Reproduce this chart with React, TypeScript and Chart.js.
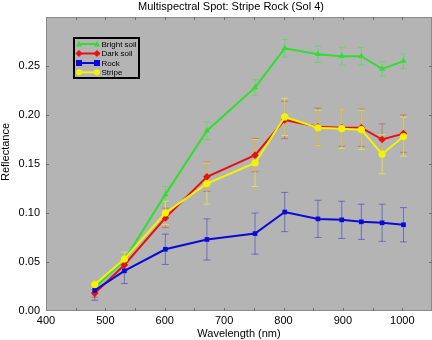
import React, { useEffect, useRef } from "react";
import { Chart, registerables } from "chart.js";

Chart.register(...registerables);

const TITLE = "Multispectral Spot: Stripe Rock (Sol 4)";
const X_TITLE = "Wavelength (nm)";
const Y_TITLE = "Reflectance";

const wavelengths = [482, 532, 601, 671, 752, 802, 858, 898, 931, 966, 1002];

const brightSoil = [0.024, 0.052, 0.119, 0.184, 0.228, 0.268, 0.262, 0.26, 0.26, 0.247, 0.255];
const brightSoilErr = [0.005, 0.006, 0.008, 0.009, 0.008, 0.009, 0.0085, 0.009, 0.009, 0.0075, 0.0075];

const darkSoil = [0.018, 0.047, 0.095, 0.137, 0.159, 0.195, 0.188, 0.187, 0.187, 0.175, 0.181];
const darkSoilErr = [0.004, 0.006, 0.01, 0.015, 0.017, 0.019, 0.019, 0.019, 0.019, 0.016, 0.019];

const rock = [0.021, 0.041, 0.063, 0.073, 0.079, 0.101, 0.094, 0.093, 0.091, 0.09, 0.088];
const rockErr = [0.01, 0.013, 0.0155, 0.021, 0.021, 0.02, 0.019, 0.019, 0.018, 0.019, 0.0175];

const stripe = [0.027, 0.053, 0.1, 0.13, 0.151, 0.198, 0.187, 0.186, 0.185, 0.16, 0.178];
const stripeErr = [0.004, 0.007, 0.012, 0.021, 0.024, 0.019, 0.018, 0.02, 0.02, 0.02, 0.02];

const seriesLabels = ["Bright soil", "Dark soil", "Rock", "Stripe"];

const xTicks = [400, 500, 600, 700, 800, 900, 1000];
const xMinorTicks = [450, 550, 650, 750, 850, 950, 1050];
const yTicks = [0, 0.05, 0.1, 0.15, 0.2, 0.25];

const FONT = "'Liberation Sans', Arial, Helvetica, sans-serif";

const colors = ["#2ee02e", "#e81010", "#0a0ad8", "#f4f400"];
const errColors = [
  "rgba(60,230,60,0.55)",
  "rgba(210,60,20,0.5)",
  "rgba(40,40,210,0.5)",
  "rgba(240,240,60,0.7)",
];
const pointStyles = ["triangle", "rectRot", "rect", "circle"];
const pointRadii = [3.5, 3.8, 3.3, 3.6];
const errors = [brightSoilErr, darkSoilErr, rockErr, stripeErr];

const toPoints = (ys: number[]) => wavelengths.map((x, i) => ({ x, y: ys[i] }));

function drawMarker(ctx: CanvasRenderingContext2D, style: string, x: number, y: number, r: number) {
  ctx.beginPath();
  if (style === "triangle") {
    ctx.moveTo(x, y - r);
    ctx.lineTo(x + r, y + r * 0.8);
    ctx.lineTo(x - r, y + r * 0.8);
  } else if (style === "rectRot") {
    ctx.moveTo(x, y - r * 1.2);
    ctx.lineTo(x + r * 1.2, y);
    ctx.lineTo(x, y + r * 1.2);
    ctx.lineTo(x - r * 1.2, y);
  } else if (style === "rect") {
    ctx.rect(x - r, y - r, 2 * r, 2 * r);
  } else {
    ctx.arc(x, y, r, 0, Math.PI * 2);
  }
  ctx.closePath();
  ctx.fill();
}

const customPlugin = {
  id: "customDecor",
  beforeDraw(chart: any) {
    const { ctx, chartArea } = chart;
    ctx.save();
    ctx.fillStyle = "#ffffff";
    ctx.fillRect(0, 0, chart.width, chart.height);
    ctx.fillStyle = "#b4b4b4";
    ctx.fillRect(chartArea.left, chartArea.top, chartArea.right - chartArea.left, chartArea.bottom - chartArea.top);
    ctx.restore();
  },
  beforeDatasetsDraw(chart: any) {
    const { ctx } = chart;
    const xs = chart.scales.x;
    const ys = chart.scales.y;
    ctx.save();
    ctx.lineWidth = 1;
    chart.data.datasets.forEach((ds: any, di: number) => {
      const err = errors[di];
      ctx.strokeStyle = errColors[di];
      ds.data.forEach((p: any, i: number) => {
        const px = xs.getPixelForValue(p.x);
        const top = ys.getPixelForValue(p.y + err[i]);
        const bot = ys.getPixelForValue(p.y - err[i]);
        ctx.beginPath();
        ctx.moveTo(px, top);
        ctx.lineTo(px, bot);
        ctx.moveTo(px - 3.5, top);
        ctx.lineTo(px + 3.5, top);
        ctx.moveTo(px - 3.5, bot);
        ctx.lineTo(px + 3.5, bot);
        ctx.stroke();
      });
    });
    ctx.restore();
  },
  afterDraw(chart: any) {
    const { ctx, chartArea } = chart;
    const xs = chart.scales.x;
    const ys = chart.scales.y;
    const { left, right, top, bottom } = chartArea;
    ctx.save();
    // frame
    ctx.strokeStyle = "#8a8a8a";
    ctx.lineWidth = 1;
    ctx.strokeRect(left + 0.5, top + 0.5, right - left - 1, bottom - top - 1);
    // inner ticks
    ctx.strokeStyle = "#6e6e6e";
    ctx.beginPath();
    [...xTicks, ...xMinorTicks].forEach((v) => {
      const px = Math.round(xs.getPixelForValue(v)) + 0.5;
      if (px <= left + 1 || px >= right - 1) return;
      ctx.moveTo(px, top);
      ctx.lineTo(px, top + 3);
      ctx.moveTo(px, bottom);
      ctx.lineTo(px, bottom - 3);
    });
    yTicks.forEach((v) => {
      const py = Math.round(ys.getPixelForValue(v)) + 0.5;
      if (py <= top + 1 || py >= bottom - 1) return;
      ctx.moveTo(left, py);
      ctx.lineTo(left + 3, py);
      ctx.moveTo(right, py);
      ctx.lineTo(right - 3, py);
    });
    ctx.stroke();

    // title
    ctx.fillStyle = "#000";
    ctx.font = `11px ${FONT}`;
    ctx.textAlign = "center";
    ctx.textBaseline = "middle";
    ctx.fillText(TITLE, 231, 7);

    // y title
    ctx.save();
    ctx.translate(6, 152);
    ctx.rotate(-Math.PI / 2);
    ctx.fillText(Y_TITLE, 0, 0);
    ctx.restore();

    // legend
    const lx = 74, ly = 38, lw = 65, lh = 40;
    ctx.fillStyle = "#b4b4b4";
    ctx.fillRect(lx, ly, lw, lh);
    ctx.strokeStyle = "#000";
    ctx.lineWidth = 2;
    ctx.strokeRect(lx, ly, lw, lh);
    const rowsY = [44, 53.5, 63, 72.3];
    chart.data.datasets.forEach((ds: any, di: number) => {
      const y = rowsY[di];
      ctx.strokeStyle = colors[di];
      ctx.lineWidth = 2;
      ctx.beginPath();
      ctx.moveTo(79, y);
      ctx.lineTo(97, y);
      ctx.stroke();
      [79, 97].forEach((mx) => {
        ctx.fillStyle = colors[di];
        drawMarker(ctx, pointStyles[di], mx, y, 3);
      });
      ctx.fillStyle = "#000";
      ctx.font = `8px ${FONT}`;
      ctx.textAlign = "left";
      ctx.textBaseline = "middle";
      ctx.fillText(seriesLabels[di], 101.5, y + 0.5);
    });
    ctx.restore();
  },
};

export default function App() {
  const ref = useRef<HTMLCanvasElement | null>(null);

  useEffect(() => {
    document.body.style.margin = "0";
    if (!ref.current) return;
    const seriesValues = [brightSoil, darkSoil, rock, stripe];
    const orders = [4, 3, 2, 1];
    const chart = new Chart(ref.current, {
      type: "line",
      data: {
        datasets: seriesValues.map((vals, i) => ({
          label: seriesLabels[i],
          data: toPoints(vals),
          borderColor: colors[i],
          backgroundColor: colors[i],
          borderWidth: 2,
          pointStyle: pointStyles[i] as any,
          pointRadius: pointRadii[i],
          pointBorderWidth: 0,
          pointBackgroundColor: colors[i],
          tension: 0,
          order: orders[i],
        })),
      },
      options: {
        animation: false,
        responsive: false,
        devicePixelRatio: 1,
        layout: { autoPadding: false, padding: { top: 17, right: 0, left: 0, bottom: 0 } },
        plugins: {
          legend: { display: false },
          title: { display: false },
          tooltip: { enabled: false },
        },
        scales: {
          x: {
            type: "linear",
            min: 400,
            max: 1050,
            afterBuildTicks: (s: any) => {
              s.ticks = xTicks.map((v) => ({ value: v }));
            },
            afterFit: (s: any) => {
              s.height = 29;
              s.paddingLeft = 0;
              s.paddingRight = 0;
            },
            grid: { display: false, drawTicks: false },
            border: { display: false },
            ticks: {
              color: "#000",
              font: { family: FONT, size: 11 },
              padding: 3,
              maxRotation: 0,
              autoSkip: false,
              callback: (v: any) => String(v),
            },
            title: {
              display: true,
              text: X_TITLE,
              color: "#000",
              font: { family: FONT, size: 11 },
              padding: { top: 0, bottom: -1 },
            },
          },
          y: {
            type: "linear",
            min: 0,
            max: 0.3,
            afterBuildTicks: (s: any) => {
              s.ticks = yTicks.map((v) => ({ value: v }));
            },
            afterFit: (s: any) => {
              s.width = 46;
              s.paddingTop = 0;
              s.paddingBottom = 0;
            },
            grid: { display: false, drawTicks: false },
            border: { display: false },
            ticks: {
              color: "#000",
              font: { family: FONT, size: 11 },
              padding: 6,
              autoSkip: false,
              callback: (v: any) => Number(v).toFixed(2),
            },
          },
        },
      },
      plugins: [customPlugin],
    });
    return () => chart.destroy();
  }, []);

  return (
    <div style={{ width: 432, height: 340 }}>
      <canvas ref={ref} width={432} height={340} style={{ display: "block" }} />
    </div>
  );
}
